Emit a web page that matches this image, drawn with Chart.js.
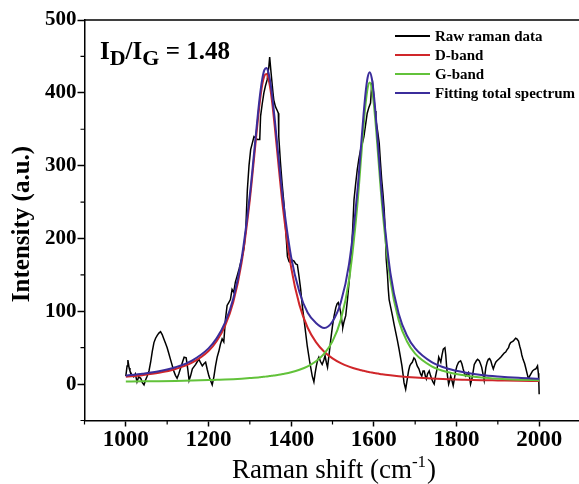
<!DOCTYPE html>
<html>
<head>
<meta charset="utf-8">
<script src="https://cdn.jsdelivr.net/npm/chart.js@4.4.0/dist/chart.umd.min.js"></script>
<style>
  html, body { margin: 0; padding: 0; background: #fff; overflow: hidden; width: 579px; height: 484px; }
  canvas { display: block; }
</style>
</head>
<body>
<canvas id="c" width="590" height="484"></canvas>
<script>
// ---- Data ----
const rawX = [1000,1003,1005,1008,1010,1015,1019,1023,1027,1031,1036,1040,1044,1048,1051,1056,1060,1064,1068,1072,1076,1080,1084,1088,1092,1096,1100,1104,1108,1112,1116,1120,1124,1128,1132,1137,1141,1146,1150,1153,1157,1161,1165,1169,1173,1177,1181,1185,1189,1193,1197,1201,1205,1209,1213,1217,1221,1225,1229,1233,1237,1241,1245,1249,1253,1257,1261,1265,1270,1274,1278,1282,1286,1290,1294,1298,1302,1306,1310,1314,1318,1324,1326,1330,1334,1338,1342,1346,1348,1351,1353,1356,1358,1362,1366,1369,1370,1374,1378,1383,1387,1391,1395,1399,1403,1407,1411,1415,1419,1423,1427,1433,1439,1445,1451,1455,1458,1461,1464,1467,1471,1475,1479,1482,1485,1488,1492,1496,1500,1504,1508,1511,1514,1517,1520,1523,1525,1528,1532,1536,1540,1543,1546,1549,1552,1556,1560,1564,1568,1572,1576,1580,1584,1588,1592,1595,1597,1600,1603,1605,1609,1613,1616,1619,1622,1625,1628,1630,1633,1635,1637,1641,1645,1649,1653,1657,1661,1665,1668,1671,1673,1677,1681,1684,1687,1690,1693,1697,1700,1705,1709,1713,1716,1719,1722,1725,1727,1730,1734,1737,1740,1743,1746,1749,1752,1755,1757,1760,1762,1765,1768,1772,1774,1776,1778,1781,1784,1786,1789,1792,1795,1798,1801,1805,1810,1813,1816,1819,1822,1826,1829,1832,1834,1838,1843,1848,1851,1855,1858,1861,1864,1867,1871,1874,1877,1880,1883,1886,1889,1892,1895,1898,1902,1907,1910,1913,1916,1919,1922,1926,1928,1931,1934,1937,1940,1943,1946,1950,1953,1956,1958,1961,1965,1968,1971,1974,1977,1980,1984,1988,1992,1996,1998,1999,2000];
const rawY = [11,25,33,22,18,12,10,14,3,10,8,2,-1,6,10,18,30,45,57,63,67,70,72,68,62,56,50,42,34,26,18,12,8,14,21,30,37,36,20,5,12,21,24,27,31,34,29,25,28,30,20,11,5,-1,10,25,37,45,55,62,58,89,108,112,116,130,126,140,150,158,167,176,187,210,267,300,322,331,340,338,336,336,368,385,400,410,418,436,449,430,418,400,390,381,376,372,340,305,276,245,210,175,168,167,170,169,165,164,148,130,107,80,52,30,11,3,15,25,33,37,31,27,33,39,30,23,42,62,80,94,105,110,112,106,98,85,78,86,94,115,139,160,185,215,253,275,295,310,322,330,340,356,372,380,386,412,414,395,375,363,348,331,305,281,262,240,205,171,150,130,116,105,94,82,71,60,48,35,25,12,2,-7,7,18,25,28,30,36,34,25,21,14,11,18,18,10,7,14,18,12,7,3,0,10,18,28,37,33,30,40,48,50,40,25,12,0,6,11,5,-2,8,18,25,30,32,28,21,15,11,14,16,8,0,9,27,32,34,32,28,23,14,5,23,30,34,35,32,26,21,26,30,32,34,37,39,41,43,44,47,50,54,57,58,59,61,63,62,59,52,46,40,34,28,21,14,7,11,14,18,20,21,25,15,7,-14];

const fitX  = [1000,1040,1080,1120,1160,1200,1220,1240,1260,1280,1300,1310,1320,1325,1330,1335,1340,1345,1350,1355,1360,1370,1380,1400,1420,1440,1460,1480,1500,1520,1540,1560,1570,1575,1580,1585,1590,1595,1600,1605,1610,1620,1640,1660,1680,1700,1740,1780,1820,1860,1900,1950,2000];
const dBand = [10.0,12.3,15.5,20.7,29.4,45.5,59.2,80.0,112.8,166.6,253.1,309.0,366.4,391.5,411.0,423.0,425.8,419.2,404.0,382.0,355.4,297.4,242.8,160.0,108.8,77.4,57.6,44.4,35.3,28.8,24.0,20.3,18.9,18.2,17.6,16.9,16.4,15.8,15.3,14.8,14.4,13.5,12.1,10.9,9.9,9.1,7.7,6.7,6.0,5.4,5.0,4.5,4.1];
const gBand = [3.5,3.8,4.0,4.4,4.9,5.5,5.9,6.3,6.8,7.5,8.3,8.7,9.2,9.5,9.8,10.1,10.4,10.7,11.1,11.5,11.9,12.7,13.8,16.3,19.7,24.4,31.3,41.8,58.8,88.2,142.7,245.2,316.8,353.1,384.5,406.2,414.0,406.2,384.5,353.1,316.8,245.2,142.7,88.2,58.8,41.8,24.4,16.3,11.9,9.2,7.5,6.1,5.2];
const total = [11.5,14.1,17.5,23.1,32.3,49.0,63.1,84.3,117.6,172.1,259.4,315.7,373.6,399.0,418.8,431.1,434.2,427.9,413.1,391.5,365.3,308.1,254.6,174.3,126.5,98,84,77,86,112,164.7,263.5,333.7,369.3,400.1,421.1,428.4,420.0,397.8,365.9,329.2,256.7,152.8,97.1,66.7,48.9,30.1,21.0,15.9,12.6,10.5,8.6,7.3];

const seriesNames = ['Raw raman data', 'D-band', 'G-band', 'Fitting total spectrum'];
const seriesColors = ['#000000', '#d0262a', '#62c23a', '#3b2d9b'];
const xTickLabels = [1000, 1200, 1400, 1600, 1800, 2000];
const yTickLabels = [0, 100, 200, 300, 400, 500];
const ratioText = '1.48';

// ---- build ----
const pts = (xs, ys) => xs.map((x, i) => ({ x: x, y: ys[i] }));
const SERIF = '"Liberation Serif", "Times New Roman", serif';

const extras = {
  id: 'extras',
  afterDraw(chart) {
    const ctx = chart.ctx, a = chart.chartArea;
    const xs = chart.scales.x, ys = chart.scales.y;
    ctx.save();
    // frame top and right
    ctx.strokeStyle = '#000'; ctx.lineWidth = 1.5;
    ctx.beginPath();
    ctx.moveTo(a.left, a.top); ctx.lineTo(a.right, a.top); ctx.lineTo(a.right, a.bottom);
    ctx.stroke();
    // minor ticks
    ctx.lineWidth = 1.2;
    ctx.beginPath();
    for (let v = -50; v <= 500; v += 50) {
      if (v % 100 !== 0) { const y = ys.getPixelForValue(v); ctx.moveTo(a.left - 4, y); ctx.lineTo(a.left, y); }
    }
    for (let v = 900; v <= 2100; v += 100) {
      if (v % 200 !== 0) { const x = xs.getPixelForValue(v); ctx.moveTo(x, a.bottom); ctx.lineTo(x, a.bottom + 4); }
    }
    ctx.stroke();

    // annotation I_D/I_G = 1.48
    ctx.fillStyle = '#000';
    ctx.textBaseline = 'alphabetic'; ctx.textAlign = 'left';
    let x = 100;
    const big = 'bold 25px ' + SERIF, sub = 'bold 22px ' + SERIF;
    const seg = (t, f, base) => { ctx.font = f; ctx.fillText(t, x, base); x += ctx.measureText(t).width; };
    seg('I', big, 59); seg('D', sub, 65); seg('/', big, 59); seg('I', big, 59); seg('G', sub, 65);
    seg(' = ' + ratioText, big, 59);

    // legend
    ctx.font = 'bold 15px ' + SERIF;
    ctx.textBaseline = 'middle';
    const rows = [36, 55, 74, 93];
    seriesNames.forEach((n, i) => {
      ctx.strokeStyle = seriesColors[i]; ctx.lineWidth = 2;
      ctx.beginPath(); ctx.moveTo(395, rows[i]); ctx.lineTo(430, rows[i]); ctx.stroke();
      ctx.fillStyle = '#000';
      ctx.fillText(n, 435, rows[i] + 1);
    });

    // x title with superscript
    ctx.textBaseline = 'alphabetic';
    const mainF = '27px ' + SERIF, supF = '17px ' + SERIF;
    ctx.font = mainF; const w1 = ctx.measureText('Raman shift (cm').width; const w3 = ctx.measureText(')').width;
    ctx.font = supF; const w2 = ctx.measureText('-1').width + 1;
    let tx = 334 - (w1 + w2 + w3) / 2;
    ctx.font = mainF; ctx.fillText('Raman shift (cm', tx, 478); tx += w1;
    ctx.font = supF; ctx.fillText('-1', tx, 467); tx += w2;
    ctx.font = mainF; ctx.fillText(')', tx, 478);

    // y title
    ctx.save();
    ctx.translate(23, 224); ctx.rotate(-Math.PI / 2);
    ctx.font = 'bold 25px ' + SERIF; ctx.textAlign = 'center'; ctx.textBaseline = 'middle';
    ctx.fillText('Intensity (a.u.)', 0, 0);
    ctx.restore();
    ctx.restore();
  }
};

new Chart(document.getElementById('c'), {
  type: 'line',
  data: {
    datasets: [
      { label: seriesNames[0], data: pts(rawX, rawY), borderColor: seriesColors[0], borderWidth: 1.5, pointRadius: 0, tension: 0, order: 4 },
      { label: seriesNames[1], data: pts(fitX, dBand), borderColor: seriesColors[1], borderWidth: 2, pointRadius: 0, cubicInterpolationMode: 'monotone', order: 3 },
      { label: seriesNames[2], data: pts(fitX, gBand), borderColor: seriesColors[2], borderWidth: 2, pointRadius: 0, cubicInterpolationMode: 'monotone', order: 2 },
      { label: seriesNames[3], data: pts(fitX, total), borderColor: seriesColors[3], borderWidth: 2, pointRadius: 0, cubicInterpolationMode: 'monotone', order: 1 }
    ]
  },
  options: {
    responsive: false,
    animation: false,
    devicePixelRatio: 1,
    layout: { padding: { top: 20, right: 9.5, left: 0, bottom: 0 } },
    plugins: { legend: { display: false }, tooltip: { enabled: false } },
    scales: {
      x: {
        type: 'linear', min: 900, max: 2100,
        afterFit(s) { s.height = 63.5; },
        ticks: {
          stepSize: 100, autoSkip: false, maxRotation: 0, padding: 0, color: '#000',
          font: { family: SERIF, size: 23, weight: 'bold' },
          callback: v => xTickLabels.includes(v) ? String(v) : ''
        },
        grid: {
          drawOnChartArea: false, tickLength: 6, tickWidth: 1.5,
          tickColor: c => (c.tick && xTickLabels.includes(c.tick.value)) ? '#000' : 'rgba(0,0,0,0)'
        },
        border: { display: true, color: '#000', width: 1.5 }
      },
      y: {
        type: 'linear', min: -50, max: 500,
        afterFit(s) { s.width = 84.5; },
        ticks: {
          stepSize: 50, autoSkip: false, padding: 1, color: '#000',
          font: { family: SERIF, size: 21, weight: 'bold' },
          callback: v => yTickLabels.includes(v) ? String(v) : ''
        },
        grid: {
          drawOnChartArea: false, tickLength: 7, tickWidth: 1.5,
          tickColor: c => (c.tick && yTickLabels.includes(c.tick.value)) ? '#000' : 'rgba(0,0,0,0)'
        },
        border: { display: true, color: '#000', width: 1.5 }
      }
    }
  },
  plugins: [extras]
});
</script>
</body>
</html>
